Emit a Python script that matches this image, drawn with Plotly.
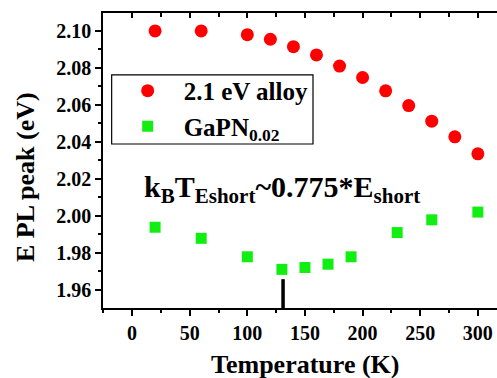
import plotly.graph_objects as go

# Data
temp_alloy = [20, 60, 100, 120, 140, 160, 180, 200, 220, 240, 260, 280, 300]
epl_alloy = [2.100, 2.100, 2.098, 2.0955, 2.0915, 2.087, 2.081, 2.0748, 2.0676, 2.0596, 2.0512, 2.0427, 2.0335]
temp_gapn = [20, 60, 100, 130, 150, 170, 190, 230, 260, 300]
epl_gapn = [1.9938, 1.9878, 1.9778, 1.971, 1.972, 1.9738, 1.9778, 1.9909, 1.9978, 2.002]
mark_T = [131, 131]
mark_E = [1.95, 1.9657]
x_ticks = [0, 50, 100, 150, 200, 250, 300]
y_ticks = [1.96, 1.98, 2.00, 2.02, 2.04, 2.06, 2.08, 2.10]

FONT = "Liberation Serif"

fig = go.Figure()
fig.add_trace(go.Scatter(x=temp_alloy, y=epl_alloy, mode="markers", name="<b>2.1 eV alloy</b>",
                         marker=dict(symbol="circle", size=13, color="#ff0000", line=dict(width=0))))
fig.add_trace(go.Scatter(x=temp_gapn, y=epl_gapn, mode="markers", name="<b>GaPN<sub>0.02</sub></b>",
                         marker=dict(symbol="square", size=11, color="#11ee11", line=dict(width=0))))
fig.add_trace(go.Scatter(x=mark_T, y=mark_E, mode="lines", showlegend=False,
                         line=dict(color="black", width=3.5)))
# empty trace to carry the top axis
fig.add_trace(go.Scatter(x=[None], y=[None], xaxis="x2", showlegend=False, hoverinfo="skip"))

fig.update_layout(
    width=497, height=378,
    margin=dict(l=103, r=0, t=13, b=70),
    paper_bgcolor="white", plot_bgcolor="white",
    showlegend=True,
    legend=dict(x=0.022, y=0.8137, xanchor="left", yanchor="top",
                borderwidth=0, bgcolor="rgba(0,0,0,0)",
                font=dict(family=FONT, size=25, color="black"),
                itemwidth=62, tracegroupgap=0),
    xaxis=dict(range=[-25.2, 316.6], tickmode="array", tickvals=x_ticks,
               ticktext=[f"<b>{v}</b>" for v in x_ticks],
               ticks="outside", ticklen=6, tickwidth=1.5, tickcolor="black",
               showline=True, linecolor="black", linewidth=1.5,
               showgrid=False, zeroline=False,
               minor=dict(dtick=25, tick0=0, ticks="outside", ticklen=3, tickwidth=1.5, tickcolor="black", showgrid=False),
               tickfont=dict(family=FONT, size=20, color="black")),
    xaxis2=dict(overlaying="x", matches="x", side="top", tickmode="array", tickvals=x_ticks,
                ticks="inside", ticklen=5, tickwidth=1.5, tickcolor="black",
                showline=True, linecolor="black", linewidth=1.5, showticklabels=False,
                showgrid=False, zeroline=False,
                minor=dict(dtick=25, tick0=0, ticks="inside", ticklen=4, tickwidth=1.5, tickcolor="black", showgrid=False)),
    yaxis=dict(range=[1.9501, 2.1097], tickmode="array", tickvals=y_ticks,
               ticktext=[f"<b>{v:.2f}</b>" for v in y_ticks],
               ticks="outside", ticklen=6, tickwidth=1.5, tickcolor="black",
               showline=True, linecolor="black", linewidth=1.5,
               showgrid=False, zeroline=False,
               minor=dict(dtick=0.01, tick0=1.95, ticks="outside", ticklen=3, tickwidth=1.5, tickcolor="black", showgrid=False),
               tickfont=dict(family=FONT, size=20, color="black")),
    shapes=[dict(type="rect", xref="paper", yref="paper", x0=0.022, x1=0.533, y0=0.556, y1=0.790,
                 line=dict(color="black", width=1.2), fillcolor="rgba(0,0,0,0)", layer="above")],
)

fig.add_annotation(text="<b>k<sub>B</sub>T<sub>Eshort</sub>~0.775*E<sub>short</sub></b>",
                   xref="paper", yref="paper", x=0.098, y=0.405, xanchor="left", yanchor="middle",
                   showarrow=False, font=dict(family=FONT, size=30, color="black"))
fig.add_annotation(text="<b>Temperature (K)</b>", xref="paper", yref="paper",
                   x=0.513, y=-0.19, xanchor="center", yanchor="middle", showarrow=False,
                   font=dict(family=FONT, size=26, color="black"))
fig.add_annotation(text="<b>E PL peak (eV)</b>", xref="paper", yref="paper", textangle=-90,
                   x=-0.198, y=0.444, xanchor="center", yanchor="middle", showarrow=False,
                   font=dict(family=FONT, size=26, color="black"))

fig.write_html("out.html", config={"displayModeBar": False},
               post_script="document.body.style.margin='0';document.body.style.padding='0';")
